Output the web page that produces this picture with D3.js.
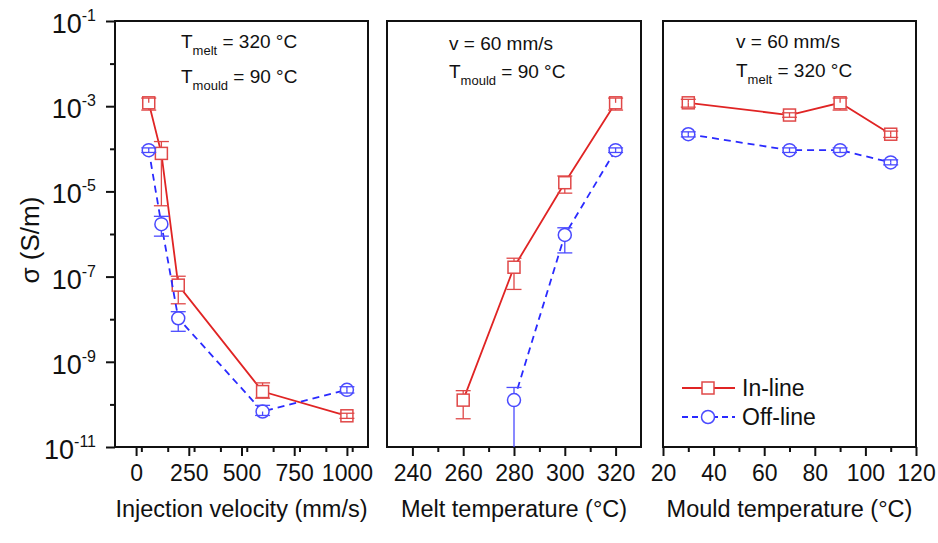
<!DOCTYPE html>
<html><head><meta charset="utf-8">
<script src="https://cdn.jsdelivr.net/npm/d3@7"></script>
<style>
body{margin:0;background:#fff;}
text{font-family:"Liberation Sans",Arial,sans-serif;fill:#111;}
</style></head><body>
<svg id="chart" width="938" height="543"></svg>
<script>
// ---------- data ----------
const velocity = [60, 120, 200, 600, 1000];
const velInline = [1.2e-3, 7.8e-5, 6.3e-8, 2.0e-10, 5.4e-11];
const velInlineHi = [1.55e-3, 1.48e-4, 1.02e-7, 3.2e-10, 6.2e-11];
const velInlineLo = [8.1e-4, 4.6e-6, 2.3e-8, 1.4e-10, 4.7e-11];
const velOffline = [9.3e-5, 1.7e-6, 1.05e-8, 6.8e-11, 2.2e-10];
const velOfflineHi = [1.05e-4, 2.6e-6, 1.5e-8, 9.5e-11, 2.6e-10];
const velOfflineLo = [8.2e-5, 8.9e-7, 5.2e-9, 5.5e-11, 1.85e-10];

const meltTemp = [260, 280, 300, 320];
const meltInline = [1.26e-10, 1.66e-7, 1.6e-5, 1.2e-3];
const meltInlineHi = [2.1e-10, 2.7e-7, 2.3e-5, 1.55e-3];
const meltInlineLo = [4.6e-11, 5.0e-8, 9.1e-6, 8.1e-4];
const meltTempOff = [280, 300, 320];
const meltOffline = [1.26e-10, 9.5e-7, 9.3e-5];
const meltOfflineHi = [2.5e-10, 1.4e-6, 1.05e-4];
const meltOfflineLo = [1e-13, 3.6e-7, 8.2e-5];

const mouldTemp = [30, 70, 90, 110];
const mouldInline = [1.2e-3, 6.2e-4, 1.2e-3, 2.2e-4];
const mouldInlineHi = [1.45e-3, 7.0e-4, 1.55e-3, 2.6e-4];
const mouldInlineLo = [9.5e-4, 5.5e-4, 8.1e-4, 1.85e-4];
const mouldOffline = [2.2e-4, 9.3e-5, 9.3e-5, 4.8e-5];
const mouldOfflineHi = [2.5e-4, 1.05e-4, 1.05e-4, 5.5e-5];
const mouldOfflineLo = [1.9e-4, 8.2e-5, 8.2e-5, 4.2e-5];

const yMajorExp = [-1, -3, -5, -7, -9, -11];
const yMinorExp = [-2, -4, -6, -8, -10];
const velTicks = [0, 250, 500, 750, 1000];
const meltTicks = [240, 260, 280, 300, 320];
const mouldTicks = [20, 40, 60, 80, 100, 120];
const seriesNames = ["In-line", "Off-line"];

// ---------- layout ----------
const svg = d3.select("#chart");
const yTop = 21, yBottom = 447;
const RED = "#e02424", RED_M = "#e04848", BLUE = "#2a2aff", BLUE_M = "#4a4aff";
const y = d3.scaleLog().domain([1e-11, 1e-1]).range([yBottom, yTop]);

const panels = [
  {x0:115, x1:368, domain:[-100,1100], major:velTicks, minorStep:125, title:"Injection velocity (mm/s)",
   inl:{x:velocity, v:velInline, hi:velInlineHi, lo:velInlineLo},
   off:{x:velocity, v:velOffline, hi:velOfflineHi, lo:velOfflineLo},
   ann:[{t:"T", sub:"melt", rest:" = 320 °C", y:48},{t:"T", sub:"mould", rest:" = 90 °C", y:83}], annX:181},
  {x0:387, x1:641, domain:[230,330], major:meltTicks, minorStep:10, title:"Melt temperature (°C)",
   inl:{x:meltTemp, v:meltInline, hi:meltInlineHi, lo:meltInlineLo},
   off:{x:meltTempOff, v:meltOffline, hi:meltOfflineHi, lo:meltOfflineLo},
   ann:[{t:"v = 60 mm/s", sub:"", rest:"", y:50},{t:"T", sub:"mould", rest:" = 90 °C", y:78}], annX:449},
  {x0:663, x1:916, domain:[20,120], major:mouldTicks, minorStep:10, title:"Mould temperature (°C)",
   inl:{x:mouldTemp, v:mouldInline, hi:mouldInlineHi, lo:mouldInlineLo},
   off:{x:mouldTemp, v:mouldOffline, hi:mouldOfflineHi, lo:mouldOfflineLo},
   ann:[{t:"v = 60 mm/s", sub:"", rest:"", y:48},{t:"T", sub:"melt", rest:" = 320 °C", y:77}], annX:736}
];

const R = 6; // marker half-size

panels.forEach((p, i) => {
  const x = d3.scaleLinear().domain(p.domain).range([p.x0, p.x1]);
  const g = svg.append("g");
  const clipId = "clip" + i;
  svg.append("clipPath").attr("id", clipId).append("rect")
    .attr("x", p.x0).attr("y", yTop).attr("width", p.x1 - p.x0).attr("height", yBottom - yTop);

  const minor = d3.range(p.domain[0], p.domain[1] + 0.001, p.minorStep).filter(v => !p.major.includes(v) && v > p.domain[0] && v < p.domain[1]);
  g.append("g").attr("transform", `translate(0,${yBottom})`)
    .call(d3.axisBottom(x).tickValues(minor).tickSize(5).tickFormat(""))
    .call(a => a.select(".domain").remove())
    .call(a => a.selectAll("line").attr("stroke", "#111").attr("stroke-width", 2));
  const xa = g.append("g").attr("transform", `translate(0,${yBottom})`)
    .call(d3.axisBottom(x).tickValues(p.major).tickSize(9).tickPadding(9).tickFormat(d3.format("d")))
    .call(a => a.select(".domain").remove());
  xa.selectAll("line").attr("stroke", "#111").attr("stroke-width", 2);
  xa.selectAll("text").attr("font-size", 23).attr("font-family", "Liberation Sans, Arial, sans-serif").attr("fill", "#111").attr("dy", "0.7em");

  g.append("text").attr("x", (p.x0 + p.x1) / 2).attr("y", 517).attr("text-anchor", "middle")
    .attr("font-size", 23.5).text(p.title);

  if (i === 0) {
    g.append("g").attr("transform", `translate(${p.x0},0)`)
      .call(d3.axisLeft(y).tickValues(yMinorExp.map(e => Math.pow(10, e))).tickSize(5).tickFormat(""))
      .call(a => a.select(".domain").remove())
      .call(a => a.selectAll("line").attr("stroke", "#111").attr("stroke-width", 2));
    const ya = g.append("g").attr("transform", `translate(${p.x0},0)`)
      .call(d3.axisLeft(y).tickValues(yMajorExp.map(e => Math.pow(10, e))).tickSize(9).tickFormat(""))
      .call(a => a.select(".domain").remove());
    ya.selectAll("line").attr("stroke", "#111").attr("stroke-width", 2);
    yMajorExp.forEach(e => {
      const t = g.append("text").attr("x", 96).attr("y", y(Math.pow(10, e)) + 12)
        .attr("text-anchor", "end").attr("font-size", 27);
      t.append("tspan").text("10");
      t.append("tspan").attr("dy", -12).attr("font-size", 16).text(String(e));
    });
    g.append("text").attr("transform", `translate(39,${(yTop + yBottom) / 2 + 6}) rotate(-90)`)
      .attr("text-anchor", "middle").attr("font-size", 26).text("σ (S/m)");
  }

  g.append("rect").attr("x", p.x0).attr("y", yTop).attr("width", p.x1 - p.x0).attr("height", yBottom - yTop)
    .attr("fill", "none").attr("stroke", "#111").attr("stroke-width", 2);

  const plot = g.append("g").attr("clip-path", `url(#${clipId})`);

  function drawSeries(s, color, mcolor, dashed, shape) {
    const pts = s.x.map((xv, k) => ({x: xv, v: s.v[k], hi: s.hi[k], lo: s.lo[k]}));
    plot.append("path").datum(pts)
      .attr("d", d3.line().x(d => x(d.x)).y(d => y(d.v)))
      .attr("fill", "none").attr("stroke", color).attr("stroke-width", 1.8)
      .attr("stroke-dasharray", dashed ? "7,5" : null);
    pts.forEach(d => {
      const cx = x(d.x), cy = y(d.v);
      if (shape === "square") {
        plot.append("rect").attr("x", cx - R).attr("y", cy - R).attr("width", 2 * R).attr("height", 2 * R)
          .attr("fill", "#fff").attr("stroke", mcolor).attr("stroke-width", 1.5);
      } else {
        plot.append("circle").attr("cx", cx).attr("cy", cy).attr("r", R + 0.5)
          .attr("fill", "#fff").attr("stroke", mcolor).attr("stroke-width", 1.5);
      }
      [d.hi, d.lo].forEach(ev => {
        const ey = Math.min(y(Math.max(ev, 1e-13)), yBottom + 20);
        const inside = Math.abs(ey - cy) < R;
        const from = inside ? cy : (ey < cy ? cy - R : cy + R);
        plot.append("line").attr("x1", cx).attr("x2", cx).attr("y1", from).attr("y2", ey)
          .attr("stroke", mcolor).attr("stroke-width", 1.3);
        if (ey <= yBottom) {
          plot.append("line").attr("x1", cx - 7.5).attr("x2", cx + 7.5).attr("y1", ey).attr("y2", ey)
            .attr("stroke", mcolor).attr("stroke-width", 1.3);
        }
      });
    });
  }
  drawSeries(p.inl, RED, RED_M, false, "square");
  drawSeries(p.off, BLUE, BLUE_M, true, "circle");

  p.ann.forEach(a => {
    const t = g.append("text").attr("x", p.annX).attr("y", a.y).attr("font-size", 19);
    t.append("tspan").text(a.t);
    if (a.sub) {
      t.append("tspan").attr("dy", 7).attr("font-size", 13).text(a.sub);
      t.append("tspan").attr("dy", -7).text(a.rest);
    }
  });
});

const leg = svg.append("g");
const legItems = [
  {name: seriesNames[0], color: RED, mcolor: RED_M, dash: null, shape: "square", y: 388},
  {name: seriesNames[1], color: BLUE, mcolor: BLUE_M, dash: "6,4", shape: "circle", y: 417}
];
legItems.forEach(it => {
  leg.append("line").attr("x1", 682).attr("x2", 735).attr("y1", it.y).attr("y2", it.y)
    .attr("stroke", it.color).attr("stroke-width", 1.8).attr("stroke-dasharray", it.dash);
  if (it.shape === "square") {
    leg.append("rect").attr("x", 708 - R).attr("y", it.y - R).attr("width", 2 * R).attr("height", 2 * R)
      .attr("fill", "#fff").attr("stroke", it.mcolor).attr("stroke-width", 1.5);
  } else {
    leg.append("circle").attr("cx", 708).attr("cy", it.y).attr("r", R + 0.5)
      .attr("fill", "#fff").attr("stroke", it.mcolor).attr("stroke-width", 1.5);
  }
  leg.append("text").attr("x", 742).attr("y", it.y + 8).attr("font-size", 23).text(it.name);
});
</script>
</body></html>
